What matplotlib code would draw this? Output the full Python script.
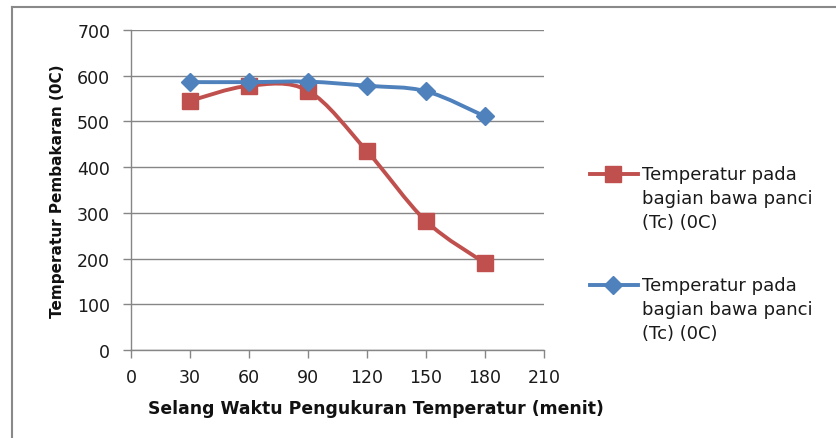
import numpy as np
import matplotlib.pyplot as plt
from matplotlib.path import Path
from matplotlib.patches import PathPatch
from matplotlib.lines import Line2D

# DATA
waktu = [30, 60, 90, 120, 150, 180]
suhu_merah = [545, 578, 567, 435, 282, 190]
suhu_biru = [586, 586, 587, 578, 566, 511]
label_seri = "Temperatur pada\nbagian bawa panci\n(Tc) (0C)"
x_ticks = [0, 30, 60, 90, 120, 150, 180, 210]
y_ticks = [0, 100, 200, 300, 400, 500, 600, 700]

RED = '#C0504D'
BLUE = '#4F81BD'
GRID = '#868686'
FONT = 'DejaVu Sans'


def smooth_path(x, y):
    # Excel-style smoothed line: Catmull-Rom segments as cubic Bezier
    p = np.column_stack([x, y]).astype(float)
    n = len(p)
    verts = [p[0]]
    codes = [Path.MOVETO]
    for i in range(n - 1):
        p0 = p[i - 1] if i > 0 else p[i]
        p1 = p[i]
        p2 = p[i + 1]
        p3 = p[i + 2] if i + 2 < n else p[i + 1]
        c1 = p1 + (p2 - p0) / 6.0
        c2 = p2 - (p3 - p1) / 6.0
        verts += [c1, c2, p2]
        codes += [Path.CURVE4] * 3
    return Path(verts, codes)


plt.rcParams['font.family'] = [FONT]

fig = plt.figure(figsize=(8.36, 4.39), dpi=100, facecolor='w')
ax = fig.add_axes([131 / 836, 88 / 439, 413 / 836, 320 / 439])

# Lines
for ys, col, z in [(suhu_merah, RED, 3), (suhu_biru, BLUE, 5)]:
    ax.add_patch(PathPatch(smooth_path(waktu, ys), facecolor='none', edgecolor=col,
                           linewidth=2.8, zorder=z, capstyle='round', joinstyle='round'))
ax.plot(waktu, suhu_merah, linestyle='none', marker='s', markersize=11.5,
        color=RED, markeredgecolor=RED, zorder=4)
ax.plot(waktu, suhu_biru, linestyle='none', marker='D', markersize=9,
        color=BLUE, markeredgecolor=BLUE, zorder=6)

ax.set_xlim(0, 210)
ax.set_ylim(0, 700)
ax.set_xticks(x_ticks)
ax.set_yticks(y_ticks)
ax.tick_params(axis='both', direction='out', length=6, width=1, color=GRID,
               labelsize=12.5, labelcolor='#1a1a1a')
ax.tick_params(axis='y', pad=9)
ax.tick_params(axis='x', pad=7)
ax.grid(axis='y', color=GRID, linewidth=1)
ax.set_axisbelow(True)
for s in ['top', 'right']:
    ax.spines[s].set_visible(False)
for s in ['left', 'bottom']:
    ax.spines[s].set_color(GRID)
    ax.spines[s].set_linewidth(1)

ax.set_xlabel('Selang Waktu Pengukuran Temperatur (menit)', fontsize=12.4,
              fontweight='bold', color='#111111', va='center')
# Excel puts the axis title centred on the chart area, not on the plot area
ax.xaxis.set_label_coords((376 - 131) / 413, (351 - 409) / 320)
ax.set_ylabel('Temperatur Pembakaran (0C)', fontsize=11, fontweight='bold',
              labelpad=9, color='#111111')

# Legend (drawn by hand so the key sits on the first text line)
W, H = 836.0, 439.0
for (col, mk, ms), y0 in [((RED, 's', 11.5), 175), ((BLUE, 'D', 9), 286)]:
    fig.add_artist(Line2D([590 / W, 638 / W], [1 - y0 / H, 1 - y0 / H], color=col,
                          linewidth=2.8, transform=fig.transFigure))
    fig.add_artist(Line2D([613 / W], [1 - y0 / H], marker=mk, markersize=ms, color=col,
                          linestyle='none', transform=fig.transFigure))
    for k, line in enumerate(label_seri.split('\n')):
        fig.text(642 / W, 1 - (y0 + 24 * k) / H, line, fontsize=13,
                 va='center', ha='left', color='#1a1a1a')

# Chart frame
fig.add_artist(Line2D([12 / W, 1.0], [1 - 8 / H, 1 - 8 / H], color='#898989',
                      linewidth=1.5, transform=fig.transFigure))
fig.add_artist(Line2D([12 / W, 12 / W], [0, 1 - 8 / H], color='#898989',
                      linewidth=1.5, transform=fig.transFigure))

fig.savefig('out.png', dpi=100, facecolor='w')
